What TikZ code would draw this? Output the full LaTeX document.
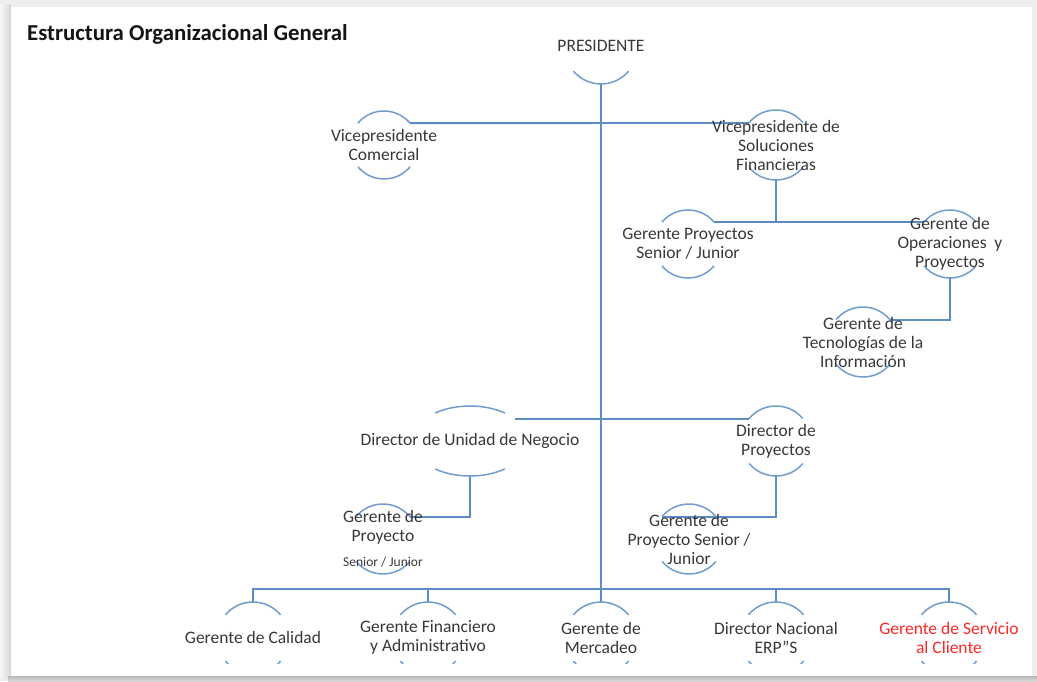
\documentclass[tikz,border=0pt]{standalone}
\usepackage{fontspec}
\setmainfont{Carlito}
\usetikzlibrary{shapes.geometric,calc}

\definecolor{linkblue}{RGB}{91,140,196}
\definecolor{ringblue}{RGB}{112,157,206}
\definecolor{txtgray}{RGB}{56,56,56}
\definecolor{alertred}{RGB}{255,40,40}
\definecolor{titleink}{RGB}{20,20,20}
\definecolor{paperedge}{RGB}{238,238,238}

% upper and lower arc of a position ring: node, x radius, y radius, start angle
\newcommand\toparc[4]{\draw[ring] (#1.center) ++(#4:#2 and #3) arc[start angle=#4, end angle=180-#4, x radius=#2, y radius=#3];}
\newcommand\botarc[4]{\draw[ring] (#1.center) ++(180+#4:#2 and #3) arc[start angle=180+#4, end angle=360-#4, x radius=#2, y radius=#3];}

\tikzset{
  ring/.style={ringblue, line width=1.5pt},
  link/.style={linkblue, line width=1.9pt},
  hub/.style={circle, inner sep=0pt, outer sep=0pt, minimum size=#1},
  lbl/.style={font=\fontsize{17.5}{19}\selectfont, text=txtgray, align=center, inner sep=0pt},
}

\begin{document}
\begin{tikzpicture}[x=1pt, y=1pt]
\useasboundingbox (0,0) rectangle (1037,681);

% sheet with soft shadow
\fill[paperedge] (0,0) rectangle (1037,681);
\shade[left color=gray!6, right color=gray!32] (0,3) rectangle (11,676);
\shade[top color=gray!55, bottom color=gray!30] (8,0) rectangle (1037,5);
\fill[white] (11,5) rectangle (1032,674);

% title
\node[anchor=west, inner sep=0pt, text=titleink, font=\bfseries\fontsize{22.8}{26}\selectfont] (title) at (27,647) {Estructura Organizacional General};

% ring positions
\node[hub=72pt] (pres) at (601,633) {};
\node[hub=68pt] (vpc)  at (384,536) {};
\node[hub=70pt] (vpsf) at (776,536) {};
\node[hub=68pt] (gps)  at (688,437) {};
\node[hub=68pt] (gop)  at (950,437) {};
\node[hub=70pt] (gti)  at (863,339) {};
\node[ellipse, inner sep=0pt, outer sep=0pt, minimum width=116pt, minimum height=70pt] (dun) at (470,240) {};
\node[hub=70pt] (dpro) at (776,240) {};
\node[hub=70pt] (gpl)  at (383,142) {};
\node[hub=70pt] (gpr)  at (689,142) {};
\node[hub=72pt] (cal)  at (253,43) {};
\node[hub=72pt] (fin)  at (428,43) {};
\node[hub=72pt] (merc) at (601,43) {};
\node[hub=72pt] (dna)  at (776,43) {};
\node[hub=72pt] (serv) at (949,43) {};

% connectors
\draw[link] (pres.south) -- (merc.north);
\draw[link] (vpc.40) -- (vpsf.141);
\draw[link] (vpsf.south) -- (vpsf.south |- gps.40);
\draw[link] (gps.40) -- (gop.140);
\draw[link] (gop.south) |- (gti.39);
\draw[link] (dun.26) -- (dpro.141);
\draw[link] (dun.south) |- (gpl.39);
\draw[link] (dpro.south) |- (gpr.141);
\draw[link] (cal.north) -- ++(0,13) -| (serv.north);
\draw[link] (fin.north) -- ++(0,13);
\draw[link] (dna.north) -- ++(0,13);

% ring arcs
\botarc{pres}{36}{36}{40}
\foreach \n/\r in {vpc/34, vpsf/35, gps/34, gop/34, gti/35, dpro/35, gpl/35, gpr/35}{
  \toparc{\n}{\r}{\r}{40}
  \botarc{\n}{\r}{\r}{40}
}
\toparc{dun}{58}{35}{53}
\botarc{dun}{58}{35}{53}
\foreach \n in {cal, fin, merc, dna, serv}{\toparc{\n}{36}{36}{40}}
\begin{scope}
  \clip (0,18) rectangle (1037,681);
  \foreach \n in {cal, fin, merc, dna, serv}{\botarc{\n}{36}{36}{40}}
\end{scope}

% labels
\node[lbl] (pres-t) at (601,635) {PRESIDENTE};
\node[lbl] (vpc-t)  at (vpc)  {Vicepresidente\\Comercial};
\node[lbl] (vpsf-t) at (vpsf) {Vicepresidente de\\Soluciones\\Financieras};
\node[lbl] (gps-t)  at (gps)  {Gerente Proyectos\\Senior / Junior};
\node[lbl] (gop-t)  at (gop)  {Gerente de\\Operaciones\ \ y\\Proyectos};
\node[lbl] (gti-t)  at (gti)  {Gerente de\\Tecnologías de la\\Información};
\node[lbl] (dun-t)  at (dun)  {Director de Unidad de Negocio};
\node[lbl] (dpro-t) at (dpro) {Director de\\Proyectos};
\node[lbl] (gpl-t)  at (383,153.5) {Gerente de\\Proyecto};
\node[lbl, font=\fontsize{13.5}{16}\selectfont] (gpl-s) at (383,119) {Senior / Junior};
\node[lbl] (gpr-t)  at (gpr)  {Gerente de\\Proyecto Senior /\\Junior};
\node[lbl] (cal-t)  at (253,44) {Gerente de Calidad};
\node[lbl] (fin-t)  at (428,43.5) {Gerente Financiero\\y Administrativo};
\node[lbl] (merc-t) at (601,43.5) {Gerente de\\Mercadeo};
\node[lbl] (dna-t)  at (776,43.5) {Director Nacional\\ERP”S};
\node[lbl, text=alertred] (serv-t) at (949,43.5) {Gerente de Servicio\\al Cliente};
\end{tikzpicture}
\end{document}
